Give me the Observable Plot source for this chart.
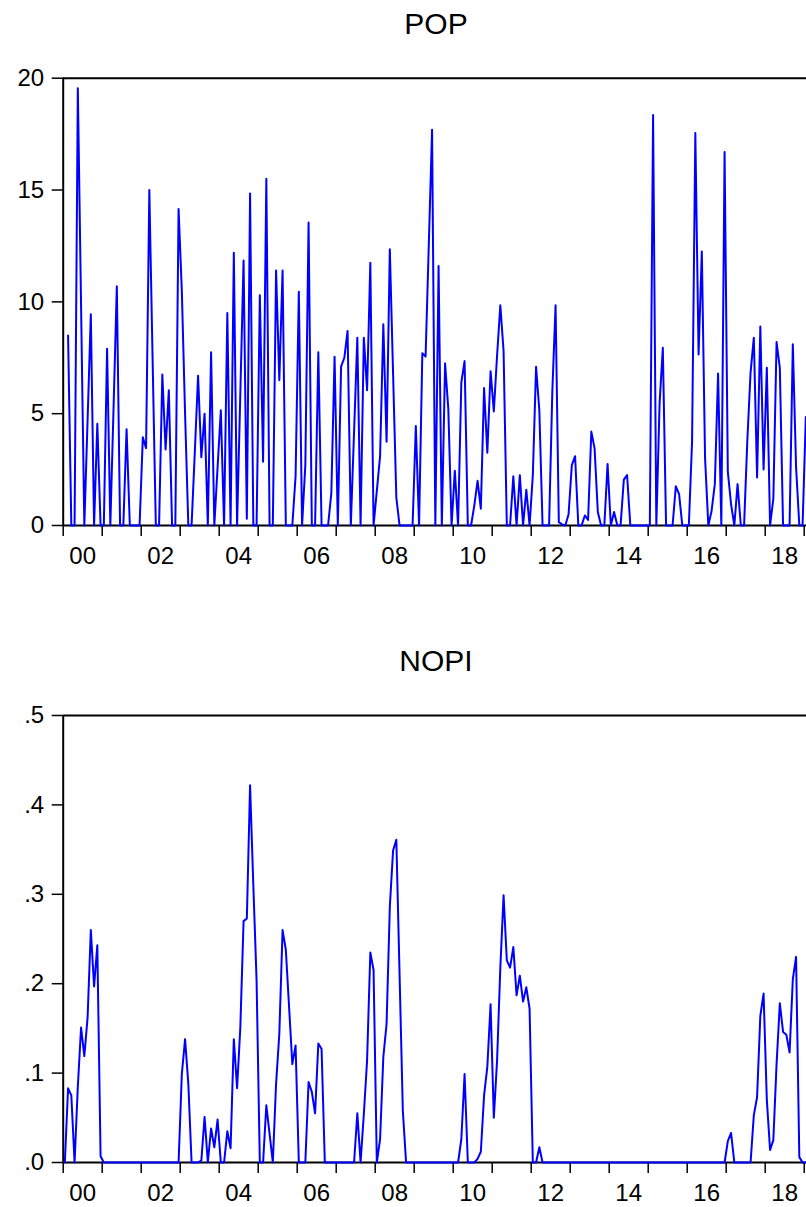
<!DOCTYPE html>
<html>
<head>
<meta charset="utf-8">
<script src="https://cdn.jsdelivr.net/npm/d3@7"></script>
<script src="https://cdn.jsdelivr.net/npm/@observablehq/plot@0.6"></script>
<style>
  html, body { margin: 0; padding: 0; background: #fff; }
  #page { position: relative; width: 806px; height: 1207px; overflow: hidden; background: #fff;
          font-family: "Liberation Sans", Arial, sans-serif; }
  .title { position: absolute; left: 0; width: 872px; text-align: center; font-size: 30px;
           line-height: 30px; color: #000; }
  .panel { position: absolute; left: 0; }
</style>
</head>
<body>
<div id="page"></div>
<script>
// ---- data (monthly, first entry = January of startYear) ----
const startYear = 2000;

const popValues = [
  null, 8.5, 0, 0, 19.55, 9.8, 0, 4.7, 9.45, 0, 4.55, 0,          // 2000
  0, 7.9, 0, 5.3, 10.7, 0, 0, 4.3, 0, 0, 0, 0,                    // 2001
  3.95, 3.45, 15.0, 7.5, 0, 0, 6.75, 3.4, 6.05, 0, 0, 14.15,      // 2002
  10.5, 5.0, 0, 0, 3.3, 6.7, 3.05, 5.0, 0, 7.75, 0, 2.6,          // 2003
  5.15, 0, 9.5, 0, 12.2, 0, 5.9, 11.85, 0.3, 14.85, 0, 0,         // 2004
  10.3, 2.85, 15.5, 0, 0, 11.4, 6.5, 11.4, 0, 0, 0, 2.2,          // 2005
  10.45, 0, 2.7, 13.55, 0, 0, 7.75, 0, 0, 0, 1.45, 7.55,          // 2006
  0, 7.1, 7.5, 8.7, 0, 4.2, 8.4, 0, 8.4, 6.05, 11.75, 0,          // 2007
  1.55, 3.1, 9.0, 3.75, 12.35, 6.8, 1.25, 0, 0, 0, 0, 0,          // 2008
  4.45, 0, 7.7, 7.55, 12.6, 17.7, 0, 11.6, 0, 7.25, 5.2, 0,       // 2009
  2.45, 0, 6.4, 7.35, 0, 0, 0.9, 2.0, 0.75, 6.15, 3.25, 6.9,      // 2010
  5.1, 7.6, 9.85, 7.8, 0, 0, 2.2, 0, 2.25, 0, 1.6, 0,             // 2011
  2.25, 7.1, 5.15, 0, 0, 0, 6.0, 9.85, 0.15, 0.05, 0, 0.5,        // 2012
  2.7, 3.1, 0, 0, 0.45, 0.25, 4.2, 3.45, 0.6, 0, 0, 2.75,         // 2013
  0, 0.6, 0, 0, 2.05, 2.25, 0, 0, 0, 0, 0, 0,                     // 2014
  0, 18.35, 0, 5.45, 7.95, 0, 0, 0, 1.75, 1.4, 0, 0,              // 2015
  0, 3.75, 17.55, 7.65, 12.25, 3.0, 0, 0.65, 1.85, 6.8, 0, 16.7,  // 2016
  2.4, 0.95, 0, 1.85, 0, 0, 3.8, 6.85, 8.4, 2.15, 8.9, 2.5,       // 2017
  7.05, 0, 1.2, 8.2, 7.05, 0, 0, 0, 8.1, 2.6, 0, 0,               // 2018
  4.85                                                            // 2019
];

const nopiValues = [
  0, 0.083, 0.075, 0, 0.085, 0.151, 0.119, 0.162, 0.26, 0.197, 0.243, 0.007,   // 2000
  0, 0, 0, 0, 0, 0, 0, 0, 0, 0, 0, 0,                                         // 2001
  0, 0, 0, 0, 0, 0, 0, 0, 0, 0, 0, 0,                                         // 2002
  0.099, 0.138, 0.088, 0, 0, 0, 0.002, 0.051, 0, 0.038, 0.017, 0.048,         // 2003
  0, 0, 0.035, 0.016, 0.138, 0.083, 0.151, 0.27, 0.273, 0.422, 0.31, 0.204,   // 2004
  0, 0, 0.064, 0.032, 0, 0.088, 0.144, 0.26, 0.238, 0.174, 0.11, 0.131,       // 2005
  0, 0, 0, 0.09, 0.079, 0.055, 0.133, 0.127, 0, 0, 0, 0,                      // 2006
  0, 0, 0, 0, 0, 0, 0.055, 0, 0.054, 0.114, 0.235, 0.215,                     // 2007
  0, 0.026, 0.118, 0.155, 0.286, 0.349, 0.361, 0.21, 0.058, 0, 0, 0,          // 2008
  0, 0, 0, 0, 0, 0, 0, 0, 0, 0, 0, 0,                                         // 2009
  0, 0, 0.026, 0.099, 0, 0, 0, 0.004, 0.012, 0.075, 0.107, 0.177,             // 2010
  0.05, 0.114, 0.218, 0.299, 0.226, 0.218, 0.241, 0.187, 0.209, 0.18, 0.196, 0.172, // 2011
  0, 0, 0.017, 0, 0, 0, 0, 0, 0, 0, 0, 0,                                     // 2012
  0, 0, 0, 0, 0, 0, 0, 0, 0, 0, 0, 0,                                         // 2013
  0, 0, 0, 0, 0, 0, 0, 0, 0, 0, 0, 0,                                         // 2014
  0, 0, 0, 0, 0, 0, 0, 0, 0, 0, 0, 0,                                         // 2015
  0, 0, 0, 0, 0, 0, 0, 0, 0, 0, 0, 0,                                         // 2016
  0.024, 0.033, 0, 0, 0, 0, 0, 0, 0.053, 0.073, 0.164, 0.189,                 // 2017
  0.07, 0.014, 0.025, 0.11, 0.178, 0.146, 0.143, 0.123, 0.205, 0.23, 0.006, 0, // 2018
  0                                                                            // 2019
];

const yearTicks = [2000, 2001, 2002, 2003, 2004, 2005, 2006, 2007, 2008, 2009,
                   2010, 2011, 2012, 2013, 2014, 2015, 2016, 2017, 2018, 2019];
const labelYears = [2000, 2002, 2004, 2006, 2008, 2010, 2012, 2014, 2016, 2018];
const labelText  = ["00", "02", "04", "06", "08", "10", "12", "14", "16", "18"];

const popTicks    = [0, 5, 10, 15, 20];
const popTickText = ["0", "5", "10", "15", "20"];
const nopiTicks    = [0, 0.1, 0.2, 0.3, 0.4, 0.5];
const nopiTickText = [".0", ".1", ".2", ".3", ".4", ".5"];

// ---- layout ----
const W = 806, ML = 62.7, YEAR_PX = 39;
const xEnd = startYear + (W - ML) / YEAR_PX;
const FONT = '"Liberation Sans", Arial, sans-serif';

function toRows(values) {
  return values
    .map((v, i) => ({date: startYear + (i + 0.5) / 12, value: v}))
    .filter(d => d.value != null);
}

function panel(values, yTicks, yText, yMax, height, marginTop) {
  const rows = toRows(values);
  return Plot.plot({
    width: W,
    height,
    marginTop,
    marginBottom: 45,
    marginLeft: ML,
    marginRight: 0,
    style: {fontFamily: FONT, fontSize: "24px", color: "#000", background: "#fff", overflow: "visible"},
    x: {domain: [startYear, xEnd], label: null},
    y: {domain: [0, yMax], label: null},
    marks: [
      Plot.axisY(yTicks, {tickSize: 11, tickPadding: 8, strokeWidth: 1.5, label: null,
                          tickFormat: d => yText[yTicks.indexOf(d)]}),
      Plot.axisX(yearTicks, {tickSize: 11, strokeWidth: 1.5, label: null, tickFormat: () => ""}),
      Plot.axisX(labelYears.map(y => y + 0.5), {tickSize: 0, tickPadding: 21, label: null,
                          tickFormat: d => labelText[labelYears.indexOf(d - 0.5)]}),
      Plot.ruleY([yMax], {stroke: "#000", strokeWidth: 2}),
      Plot.ruleY([0], {stroke: "#000", strokeWidth: 2}),
      Plot.ruleX([startYear], {stroke: "#000", strokeWidth: 2}),
      Plot.line(rows, {x: "date", y: "value", stroke: "#0000ff", strokeWidth: 2})
    ]
  });
}

const page = document.getElementById("page");

function addTitle(text, top) {
  const t = document.createElement("div");
  t.className = "title";
  t.style.top = top + "px";
  t.textContent = text;
  page.appendChild(t);
}

function addPanel(svg, top) {
  const d = document.createElement("div");
  d.className = "panel";
  d.style.top = top + "px";
  d.appendChild(svg);
  page.appendChild(d);
}

addTitle("POP", 8.5);
addPanel(panel(popValues, popTicks, popTickText, 20, 530, 37.7), 40);
addTitle("NOPI", 646);
addPanel(panel(nopiValues, nopiTicks, nopiTickText, 0.5, 527, 35), 680);
</script>
</body>
</html>
